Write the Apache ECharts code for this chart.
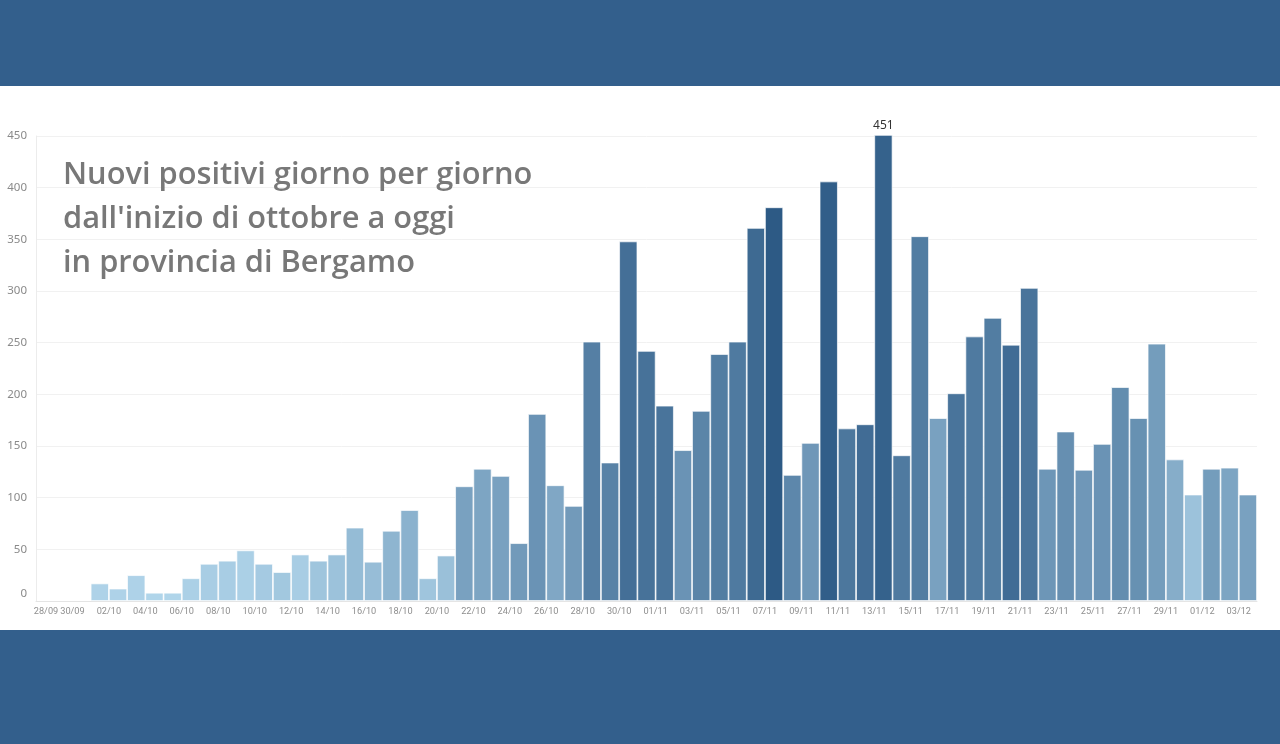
<!DOCTYPE html>
<html><head><meta charset="utf-8">
<script src="https://cdn.jsdelivr.net/npm/echarts@6/dist/echarts.min.js"></script>
<style>
html,body{margin:0;padding:0;background:#335f8c;width:1280px;height:744px;overflow:hidden}
#chart{position:absolute;left:0;top:86px;width:1280px;height:544px;background:#fff}
</style></head><body><div id="chart"></div>
<script>
// every day from 28/09 to 03/12
const dates = [
 '28/09','29/09','30/09',
 '01/10','02/10','03/10','04/10','05/10','06/10','07/10','08/10','09/10','10/10',
 '11/10','12/10','13/10','14/10','15/10','16/10','17/10','18/10','19/10','20/10',
 '21/10','22/10','23/10','24/10','25/10','26/10','27/10','28/10','29/10','30/10','31/10',
 '01/11','02/11','03/11','04/11','05/11','06/11','07/11','08/11','09/11','10/11',
 '11/11','12/11','13/11','14/11','15/11','16/11','17/11','18/11','19/11','20/11',
 '21/11','22/11','23/11','24/11','25/11','26/11','27/11','28/11','29/11','30/11',
 '01/12','02/12','03/12'
];
// new positives per day
const values = [
 null,null,null,
 17,12,25,8,8,22,36,39,49,36,
 28,45,39,45,71,38,68,88,22,44,
 111,128,121,56,181,112,92,251,134,348,242,
 189,146,184,239,251,361,381,122,153,406,
 167,171,451,141,353,177,201,256,274,248,
 303,128,164,127,152,207,177,249,137,103,
 128,129,103
];
// colour intensity of each bar (0 = lightest, 1 = darkest)
const shades = [
 null,null,null,
 0.08,0.08,0.08,0.06,0.06,0.10,0.12,0.12,0.10,0.14,
 0.16,0.12,0.18,0.20,0.25,0.24,0.30,0.32,0.18,0.22,
 0.45,0.42,0.45,0.50,0.55,0.40,0.50,0.70,0.68,0.82,0.80,
 0.78,0.55,0.66,0.72,0.74,0.86,0.98,0.64,0.52,0.95,
 0.76,0.84,0.92,0.74,0.72,0.45,0.78,0.74,0.72,0.84,
 0.78,0.53,0.58,0.52,0.55,0.60,0.57,0.48,0.36,0.20,
 0.48,0.42,0.45
];
const titleLines = ['Nuovi positivi giorno per giorno', "dall'inizio di ottobre a oggi", 'in provincia di Bergamo'];

const maxVal = Math.max(...values.filter(v => v != null));
const data = [];
values.forEach((v, i) => {
  if (v == null) return;
  const item = { value: [i + 0.5, v, shades[i]] };
  if (v === maxVal) item.label = { show: true, position: 'top', distance: 3, color: '#333', fontSize: 12, fontFamily: 'Noto Sans' };
  data.push(item);
});

const xLabelStyle = { fontSize: 9.2, color: '#8e8e8e', margin: 6, fontFamily: 'Roboto' };
const chart = echarts.init(document.getElementById('chart'));
chart.setOption({
  animation: false,
  title: {
    text: titleLines.join('\n'), left: 63, top: 67, padding: 0,
    textStyle: { fontFamily: 'Open Sans', fontWeight: 600, fontSize: 30.8, lineHeight: 44, color: '#787878' }
  },
  grid: { left: 36, right: 23, top: 50, bottom: 29, containLabel: false },
  xAxis: [{
    type: 'value', min: 0, max: dates.length, interval: 2, position: 'bottom',
    axisLine: { show: true, lineStyle: { color: '#e4e4e4' } },
    axisTick: { show: false }, splitLine: { show: false },
    axisLabel: Object.assign({
      formatter: v => dates[v] || '', showMaxLabel: false, showMinLabel: false
    }, xLabelStyle)
  }, {
    // carries only the first date label, nudged inside the plot start
    type: 'value', min: 0, max: dates.length, interval: 2, position: 'bottom',
    axisLine: { show: false }, axisTick: { show: false }, splitLine: { show: false },
    axisLabel: Object.assign({
      formatter: v => v === 0 ? '{f|' + dates[0] + '}' : '', showMaxLabel: false, showMinLabel: true,
      rich: { f: { padding: [0, 0, 0, 20], fontSize: 9.2, color: '#8e8e8e', fontFamily: 'Roboto' } }
    }, xLabelStyle)
  }],
  yAxis: {
    type: 'value', min: 0, max: 450, interval: 50,
    axisLine: { show: true, lineStyle: { color: '#ececec' } },
    axisTick: { show: false },
    splitLine: { lineStyle: { color: '#f1f1f1' } },
    axisLabel: {
      fontSize: 11.5, color: '#8a8a8a', margin: 9, fontFamily: 'Noto Sans',
      formatter: v => v === 0 ? '{z|0}' : String(v),
      rich: { z: { padding: [0, 0, 14, 0], fontSize: 11.5, color: '#8a8a8a', fontFamily: 'Noto Sans' } }
    }
  },
  visualMap: {
    show: false, type: 'continuous', dimension: 2, min: 0, max: 1, seriesIndex: 0,
    inRange: { color: ['#b9ddf1', '#2a5783'] }
  },
  series: [{
    type: 'bar', data: data, barWidth: '100%', clip: false, xAxisIndex: 0,
    encode: { x: 0, y: 1 },
    itemStyle: { borderColor: 'rgba(255,255,255,0.85)', borderWidth: 0.8 }
  }]
});
</script></body></html>
